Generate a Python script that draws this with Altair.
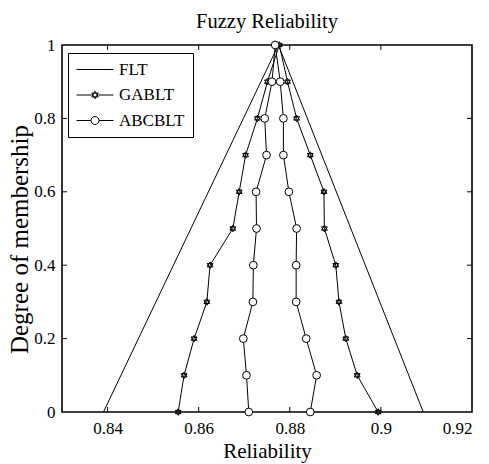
import altair as alt
import pandas as pd

levels = [0.0, 0.1, 0.2, 0.3, 0.4, 0.5, 0.6, 0.7, 0.8, 0.9, 1.0]

flt_x = [0.8391, 0.8775, 0.9093]
flt_y = [0.0, 1.0, 0.0]

gab_left = [0.8555, 0.8568, 0.8590, 0.8618, 0.8625, 0.8675, 0.8689, 0.8703, 0.8729, 0.8751, 0.8777]
gab_right = [0.8994, 0.8948, 0.8923, 0.8908, 0.8901, 0.8876, 0.8875, 0.8845, 0.8815, 0.8795, 0.8777]

abc_left = [0.8710, 0.8705, 0.8698, 0.8719, 0.8720, 0.8727, 0.8726, 0.8749, 0.8745, 0.8761, 0.8768]
abc_right = [0.8845, 0.8859, 0.8836, 0.8814, 0.8814, 0.8815, 0.8798, 0.8786, 0.8786, 0.8779, 0.8768]

series_names = ["FLT", "GABLT", "ABCBLT"]
x_ticks = [0.84, 0.86, 0.88, 0.90, 0.92]
y_ticks = [0.0, 0.2, 0.4, 0.6, 0.8, 1.0]

FONT = "Liberation Serif"
W, H = 410, 367

rows = []
for i, (xv, yv) in enumerate(zip(flt_x, flt_y)):
    rows.append({"series": "FLT", "x": xv, "y": yv, "o": i})
for name, left, right in [("GABLT", gab_left, gab_right), ("ABCBLT", abc_left, abc_right)]:
    k = 0
    for xv, yv in zip(left, levels):
        rows.append({"series": name, "x": xv, "y": yv, "o": k}); k += 1
    for xv, yv in list(zip(right, levels))[::-1][1:]:
        rows.append({"series": name, "x": xv, "y": yv, "o": k}); k += 1
df = pd.DataFrame(rows)

xs = alt.Scale(domain=[0.83, 0.92], nice=False, zero=False)
ys = alt.Scale(domain=[0, 1], nice=False)

hexagram = "M0,-1L0.866,0.5L-0.866,0.5Z M0,1L0.866,-0.5L-0.866,-0.5Z"
# legend symbols: unit = 8px, line spans -1 .. 3.625, marker at 1.3125
leg_line = "M-1,0L3.625,0"
leg_hex = ("M-1,0L0.9,0 M1.725,0L3.625,0 "
           "M1.3125,-0.47L1.72,0.235L0.905,0.235Z M1.3125,0.47L1.72,-0.235L0.905,-0.235Z")
leg_circ = ("M-1,0L0.8125,0 M1.8125,0L3.625,0 "
            "M1.8125,0A0.5,0.5 0 1,1 0.8125,0A0.5,0.5 0 1,1 1.8125,0Z")

base = alt.Chart(df)

lines = base.mark_line(color="black", strokeWidth=1).encode(
    x=alt.X("x:Q", scale=xs,
            axis=alt.Axis(values=x_ticks, format=".2~f", title="Reliability", tickSize=0,
                          domain=False, grid=False, labelFont=FONT, labelFontSize=17,
                          labelPadding=8, titleFont=FONT, titleFontSize=21,
                          titleFontWeight="normal", titlePadding=4, labelColor="black",
                          titleColor="black")),
    y=alt.Y("y:Q", scale=ys,
            axis=alt.Axis(values=y_ticks, format="~g", title="Degree of membership", tickSize=0,
                          domain=False, grid=False, labelFont=FONT, labelFontSize=17,
                          labelPadding=7, titleFont=FONT, titleFontSize=25,
                          titleFontWeight="normal", titlePadding=1, labelColor="black",
                          titleColor="black", titleY=194)),
    detail="series:N",
    order="o:Q",
)

markers = base.transform_filter(alt.datum.series != "FLT").mark_point(
    filled=True, fill="white", stroke="black", strokeWidth=1, opacity=1
).encode(
    x=alt.X("x:Q", scale=xs),
    y=alt.Y("y:Q", scale=ys),
    shape=alt.Shape("series:N",
                    scale=alt.Scale(domain=["GABLT", "ABCBLT"], range=[hexagram, "circle"]),
                    legend=None),
    size=alt.Size("series:N",
                  scale=alt.Scale(domain=["GABLT", "ABCBLT"], range=[45, 60]),
                  legend=None),
)

leg_df = pd.DataFrame({"series": series_names})
legend_layer = alt.Chart(leg_df).transform_filter("datum.series == 'none'").mark_point(
    filled=False, color="black", strokeWidth=1, opacity=1
).encode(
    x=alt.value(0), y=alt.value(0),
    shape=alt.Shape("series:N",
                    scale=alt.Scale(domain=series_names, range=[leg_line, leg_hex, leg_circ]),
                    legend=alt.Legend(title=None, orient="none", legendX=6, legendY=8,
                                      symbolSize=256, symbolOpacity=1,
                                      symbolStrokeColor="black",
                                      symbolStrokeWidth=1, labelFont=FONT, labelFontSize=17,
                                      labelColor="black", labelOffset=26, rowPadding=7.5,
                                      padding=8, strokeColor="black", fillColor="white",
                                      labelLimit=200)),
)

tick_x = pd.DataFrame({"t": x_ticks[:-1]})
tick_y = pd.DataFrame({"t": y_ticks[1:-1]})
tb = alt.Chart(tick_x).mark_rule(color="black", strokeWidth=1).encode(
    x=alt.X("t:Q", scale=xs), y=alt.value(H), y2=alt.value(H - 5))
tt = alt.Chart(tick_x).mark_rule(color="black", strokeWidth=1).encode(
    x=alt.X("t:Q", scale=xs), y=alt.value(0), y2=alt.value(5))
tl = alt.Chart(tick_y).mark_rule(color="black", strokeWidth=1).encode(
    y=alt.Y("t:Q", scale=ys), x=alt.value(0), x2=alt.value(5))
tr = alt.Chart(tick_y).mark_rule(color="black", strokeWidth=1).encode(
    y=alt.Y("t:Q", scale=ys), x=alt.value(W), x2=alt.value(W - 5))

chart = alt.layer(tb, tt, tl, tr, lines, markers, legend_layer).resolve_scale(
    shape="independent", size="independent"
).resolve_legend(shape="independent").properties(
    width=W, height=H,
    title=alt.Title("Fuzzy Reliability", font=FONT, fontSize=20.5, fontWeight="normal",
                    color="black", offset=4),
    autosize=alt.AutoSizeParams(type="none"),
    padding={"left": 62, "top": 45, "right": 17, "bottom": 52},
    background="white",
).configure_view(stroke="black", strokeWidth=1.6)

chart.save("out.html", embed_options={"renderer": "svg", "actions": False})
